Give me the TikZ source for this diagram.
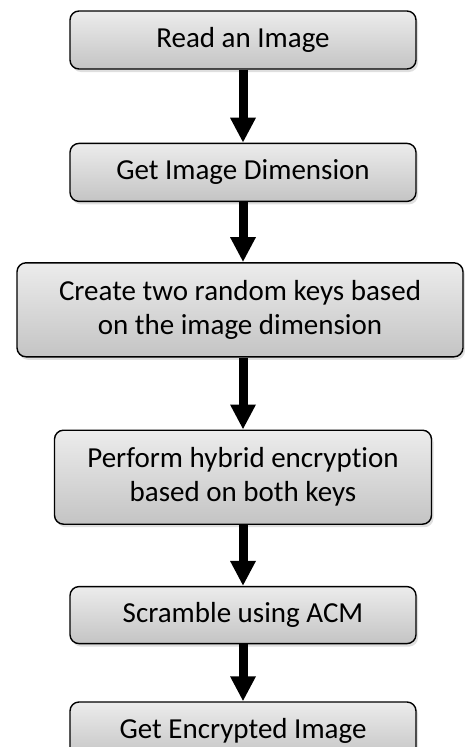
\documentclass[tikz,border=0pt]{standalone}
\usepackage{fontspec}
\setmainfont[Ligatures=NoCommon]{Carlito}
\usepackage{tikz}
\usetikzlibrary{arrows.meta, positioning, shadows}
\usepackage{xcolor}
\definecolor{boxtop}{RGB}{236,236,236}
\definecolor{boxbottom}{RGB}{196,196,196}

\begin{document}
\begin{tikzpicture}[
  x=1pt, y=1pt,
  node distance=60pt,
  box/.style={draw, line width=1.4pt, rounded corners=9pt, top color=boxtop, bottom color=boxbottom,
    drop shadow={opacity=0.25, shadow xshift=2pt, shadow yshift=-3pt},
    font=\fontsize{29}{34}\selectfont, align=center, inner sep=2pt, minimum width=346pt, minimum height=58pt},
  bigbox/.style={box, minimum height=94pt},
  flow/.style={line width=9pt, -{Triangle[width=24pt, length=25pt]}},
]
\useasboundingbox (0,0) rectangle (464,-747);

\node[box] (read) at (243,-40) {Read an Image};
\node[box, below=73pt of read] (dim) {Get Image Dimension};
\node[bigbox, minimum width=446pt, below=60pt of dim, xshift=-3pt] (keys) {Create two random keys based\\on the image dimension};
\node[bigbox, minimum width=377pt, below=72pt of keys, xshift=3pt] (hybrid) {Perform hybrid encryption\\based on both keys};
\node[box, minimum height=57pt, below=61pt of hybrid] (acm) {Scramble using ACM};
\node[box, minimum height=57pt, below=57pt of acm] (enc) {Get Encrypted Image};

\foreach \from/\to in {read/dim, dim/keys, keys/hybrid, hybrid/acm, acm/enc}{
  \draw[flow] (\from.south -| read) -- (\to.north -| read);
}
\end{tikzpicture}
\end{document}
